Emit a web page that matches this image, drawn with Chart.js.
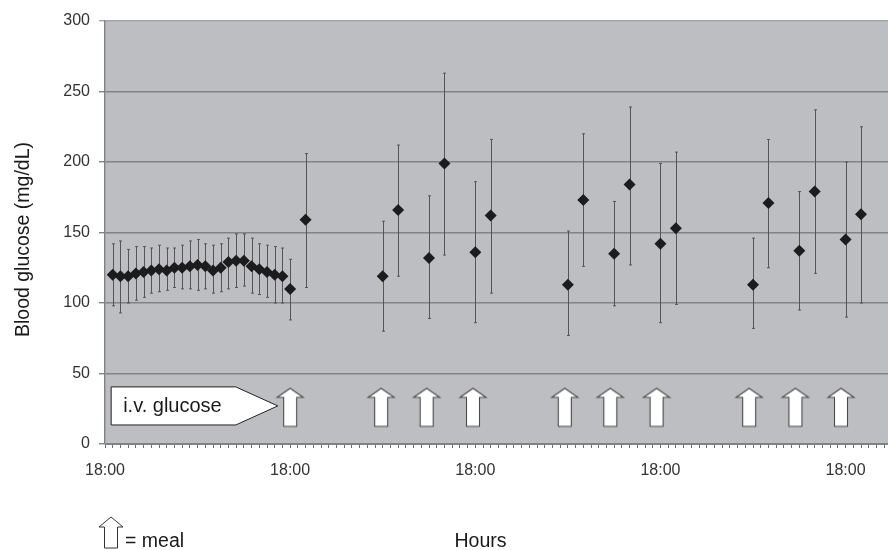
<!DOCTYPE html>
<html>
<head>
<meta charset="utf-8">
<title>Blood glucose</title>
<script src="https://cdn.jsdelivr.net/npm/chart.js@4"></script>
<style>
  body { margin: 0; background: #fff; }
  canvas { display: block; }
</style>
</head>
<body>
<canvas id="chart" width="888" height="550"></canvas>
<script>
const hours = [1, 2, 3, 4, 5, 6, 7, 8, 9, 10, 11, 12, 13, 14, 15, 16, 17, 18, 19, 20, 21, 22, 23, 24,
        26, 36, 38, 42, 44, 48, 50, 60, 62, 66, 68, 72, 74, 84, 86, 90, 92, 96, 98];
const glucose = [120, 119, 119, 121, 122, 123, 124, 123, 125, 125, 126, 127, 126, 123, 125, 129, 130, 130, 126, 124, 122, 120, 119, 110,
        159, 119, 166, 132, 199, 136, 162, 113, 173, 135, 184, 142, 153, 113, 171, 137, 179, 145, 163];
const errHigh = [142, 144, 138, 140, 140, 139, 141, 139, 139, 141, 144, 145, 142, 141, 142, 146, 149, 149, 146, 142, 141, 140, 139, 131,
        206, 158, 212, 176, 263, 186, 216, 151, 220, 172, 239, 199, 207, 146, 216, 179, 237, 200, 225];
const errLow = [98, 93, 100, 102, 104, 107, 108, 109, 111, 110, 110, 109, 110, 107, 108, 110, 111, 112, 107, 106, 104, 100, 100, 88,
        111, 80, 119, 89, 134, 86, 107, 77, 126, 98, 127, 86, 99, 82, 125, 95, 121, 90, 100];
const tickLabels = ["18:00", "18:00", "18:00", "18:00", "18:00"];
const mealHours = [24, 35.8, 41.7, 47.7, 59.6, 65.5, 71.5, 83.5, 89.5, 95.4];
const mealLevel = 26;

const textFont = '"Liberation Sans", Arial, sans-serif';

function arrowPath(ctx, x, y, w, h, shoulder, shaft) {
        ctx.beginPath();
        ctx.moveTo(x + w / 2, y);
        ctx.lineTo(x + w, y + shoulder);
        ctx.lineTo(x + w / 2 + shaft / 2, y + shoulder);
        ctx.lineTo(x + w / 2 + shaft / 2, y + h);
        ctx.lineTo(x + w / 2 - shaft / 2, y + h);
        ctx.lineTo(x + w / 2 - shaft / 2, y + shoulder);
        ctx.lineTo(x, y + shoulder);
        ctx.closePath();
}

// white arrow used as point style for the meals
const arrowIcon = document.createElement("canvas");
arrowIcon.width = 30;
arrowIcon.height = 42;
const ic = arrowIcon.getContext("2d");
arrowPath(ic, 2, 2, 26, 38, 9, 13);
ic.fillStyle = "#fff";
ic.fill();
ic.strokeStyle = "#4a4a4a";
ic.lineWidth = 1.1;
ic.stroke();

const backdrop = {
        id: "backdrop",
        beforeDraw(chart) {
                const a = chart.chartArea;
                chart.ctx.fillStyle = "#bdbec1";
                chart.ctx.fillRect(a.left, a.top, a.width, a.height);
        }
};

const whiskers = {
        id: "whiskers",
        beforeDatasetsDraw(chart) {
                const ctx = chart.ctx, x = chart.scales.x, y = chart.scales.y;
                ctx.save();
                ctx.strokeStyle = "#555";
                ctx.lineWidth = 1;
                ctx.beginPath();
                for (let i = 0; i < hours.length; i++) {
                        const px = Math.round(x.getPixelForValue(hours[i])) + 0.5;
                        const top = y.getPixelForValue(errHigh[i]);
                        const bottom = y.getPixelForValue(errLow[i]);
                        ctx.moveTo(px, top);
                        ctx.lineTo(px, bottom);
                        ctx.moveTo(px - 1.5, top);
                        ctx.lineTo(px + 1.5, top);
                        ctx.moveTo(px - 1.5, bottom);
                        ctx.lineTo(px + 1.5, bottom);
                }
                ctx.stroke();
                ctx.restore();
        }
};

const notes = {
        id: "notes",
        afterDraw(chart) {
                const ctx = chart.ctx, x = chart.scales.x, y = chart.scales.y;
                ctx.save();

                // i.v. glucose box pointing at the first meal
                const l = x.getPixelForValue(0.8), r = x.getPixelForValue(22.4);
                const t = y.getPixelForValue(40.5), b = y.getPixelForValue(13.5);
                ctx.beginPath();
                ctx.moveTo(l, t);
                ctx.lineTo(r - 42, t);
                ctx.lineTo(r, (t + b) / 2);
                ctx.lineTo(r - 42, b);
                ctx.lineTo(l, b);
                ctx.closePath();
                ctx.fillStyle = "#fff";
                ctx.fill();
                ctx.strokeStyle = "#222";
                ctx.lineWidth = 1;
                ctx.stroke();

                ctx.fillStyle = "#1a1a1a";
                ctx.font = "20px " + textFont;
                ctx.textBaseline = "alphabetic";
                ctx.textAlign = "left";
                ctx.fillText("i.v. glucose", l + 12, y.getPixelForValue(27) + 6);

                // legend and axis titles sit off-centre in the picture, so placed here
                ctx.font = "19.5px " + textFont;
                ctx.fillText("= meal", 125, 547);
                ctx.textAlign = "center";
                ctx.fillText("Hours", 480.5, 547);

                ctx.save();
                ctx.translate(29, 239.5);
                ctx.rotate(-Math.PI / 2);
                ctx.fillText("Blood glucose (mg/dL)", 0, 0);
                ctx.restore();

                arrowPath(ctx, 99, 517, 24, 31, 10, 13);
                ctx.fillStyle = "#fff";
                ctx.fill();
                ctx.strokeStyle = "#333";
                ctx.lineWidth = 1;
                ctx.stroke();
                ctx.restore();
        }
};

new Chart(document.getElementById("chart").getContext("2d"), {
        type: "scatter",
        data: {
                datasets: [{
                        label: "Blood glucose",
                        data: hours.map((h, i) => ({x: h, y: glucose[i]})),
                        pointStyle: "rectRot",
                        pointRadius: 6,
                        backgroundColor: "#1c1c1c",
                        borderColor: "#1c1c1c",
                        borderWidth: 0
                }, {
                        label: "Meal",
                        data: mealHours.map(h => ({x: h, y: mealLevel})),
                        pointStyle: arrowIcon
                }]
        },
        options: {
                responsive: false,
                animation: false,
                layout: {autoPadding: false, padding: {top: 21, right: 0, left: 0, bottom: 0}},
                plugins: {legend: {display: false}, tooltip: {enabled: false}},
                scales: {
                        x: {
                                type: "linear",
                                min: 0,
                                max: 101.5,
                                afterFit(s) {
                                        s.height = 106;
                                        s.paddingLeft = 0;
                                        s.paddingRight = 0;
                                },
                                grid: {drawOnChartArea: false, drawTicks: true, tickLength: 4, color: "#6e6e6e"},
                                border: {color: "#808284"},
                                ticks: {
                                        stepSize: 1,
                                        includeBounds: false,
                                        autoSkip: false,
                                        maxRotation: 0,
                                        padding: 13,
                                        color: "#333",
                                        font: {family: textFont, size: 16},
                                        callback: v => v % 24 === 0 ? tickLabels[v / 24] : ""
                                }
                        },
                        y: {
                                min: 0,
                                max: 300,
                                afterFit(s) { s.width = 105; },
                                grid: {color: c => c.tick.value === 300 ? "#a4a5a8" : "#808284", lineWidth: 1.4, tickLength: 6},
                                border: {color: "#808284", width: 1.4},
                                ticks: {
                                        stepSize: 50,
                                        padding: 9,
                                        color: "#333",
                                        font: {family: textFont, size: 16}
                                }
                        }
                }
        },
        plugins: [backdrop, whiskers, notes]
});
</script>
</body>
</html>
